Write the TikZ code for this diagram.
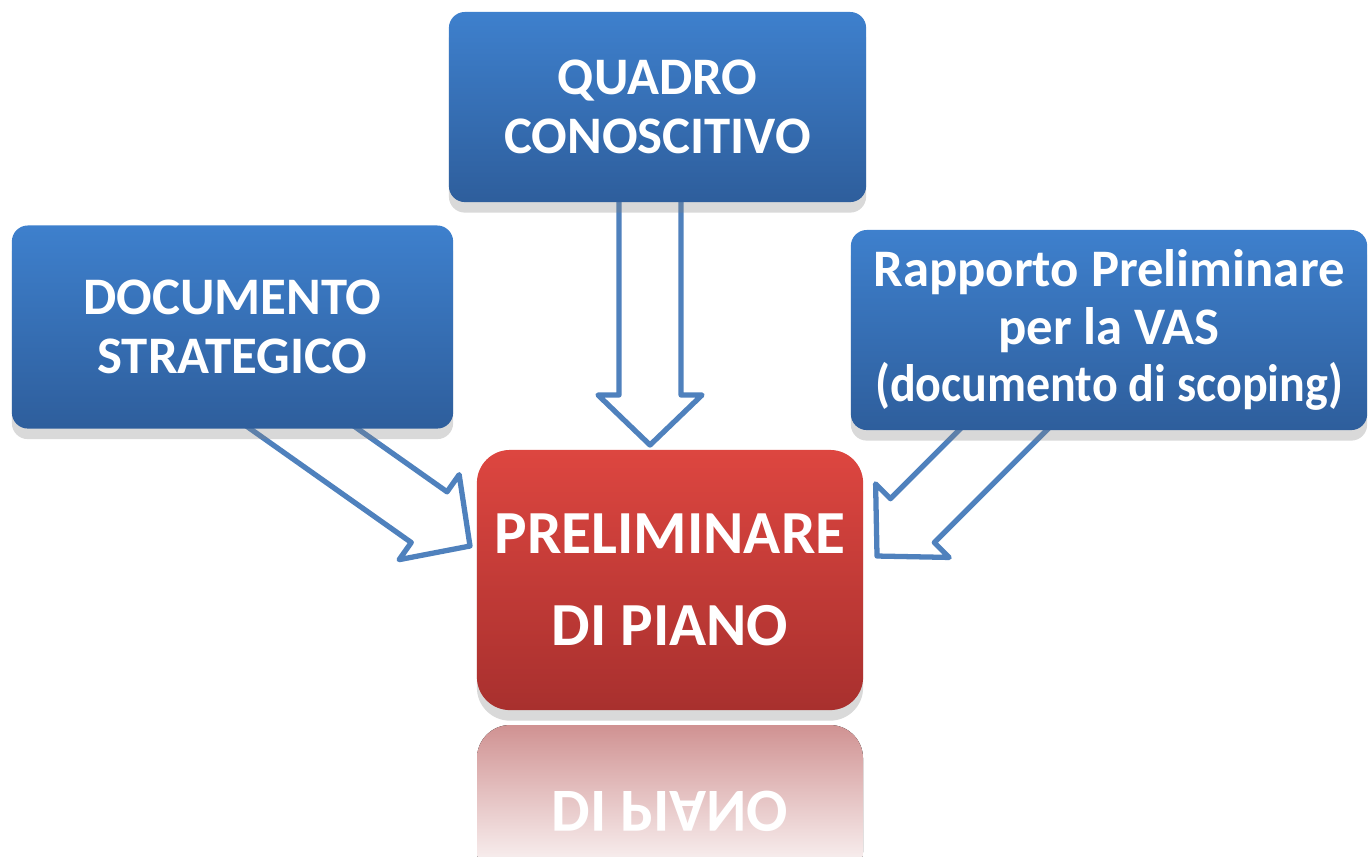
\documentclass[tikz,border=0pt]{standalone}
\usepackage{fontspec}
\usepackage{graphicx}
\setmainfont{Carlito}
\usetikzlibrary{calc, shadows}

\definecolor{boxtop}{RGB}{62,128,205}
\definecolor{boxbot}{RGB}{46,94,156}
\definecolor{redtop}{RGB}{221,70,64}
\definecolor{redbot}{RGB}{168,48,46}
\definecolor{refltop}{RGB}{208,146,146}
\definecolor{arrowblue}{RGB}{79,129,189}

\begin{document}
\begin{tikzpicture}[x=0.01cm, y=-0.01cm]
    \tikzset{
        bluebox/.style={rounded corners=0.16cm, top color=boxtop, bottom color=boxbot, text=white, align=center,
            font=\fontsize{15}{16.8}\selectfont\bfseries, drop shadow={shadow xshift=0pt, shadow yshift=-3pt, opacity=0.3}},
        redbox/.style={rounded corners=0.33cm, top color=redtop, bottom color=redbot, text=white, align=center,
            font=\fontsize{17.4}{26.2}\selectfont\bfseries, drop shadow={shadow xshift=0pt, shadow yshift=-3pt, opacity=0.3}},
        bigarrow/.style={draw=arrowblue, fill=white, line width=1.5pt, line join=round}
    }
    \clip (0,0) rectangle (1368,856);

    % tails sit under the boxes, tips point at the red box
    \coordinate (qtail) at (650,150);
    \coordinate (qtip)  at (650,445);
    \coordinate (dtail) at (235,380);
    \coordinate (dtip)  at (470,546);
    \coordinate (rtail) at (1053,380);
    \coordinate (rtip)  at (877,556);

    \foreach \from/\to in {qtail/qtip, dtail/dtip, rtail/rtip} {
        \path ($(\to)!0.5cm!(\from)$) coordinate (hbase);
        \draw[bigarrow] ($(\from)!0.31cm!90:(\to)$) -- ($(hbase)!0.31cm!90:(\to)$) -- ($(hbase)!0.52cm!90:(\to)$) -- (\to)
            -- ($(hbase)!0.52cm!-90:(\to)$) -- ($(hbase)!0.31cm!-90:(\to)$) -- ($(\from)!0.31cm!-90:(\to)$) -- cycle;
    }

    \node[bluebox, minimum width=4.17cm, minimum height=1.9cm] (quadro) at (657.5,107) {QUADRO\\CONOSCITIVO};
    \node[bluebox, minimum width=4.41cm, minimum height=2.03cm] (documento) at (232.5,327) {DOCUMENTO\\STRATEGICO};
    \node[bluebox, minimum width=5.16cm, minimum height=2.0cm, inner xsep=1pt, font=\fontsize{15}{16.4}\selectfont\bfseries] (rapporto) at (1109,330)
        {Rapporto Preliminare\\per la VAS\\\scalebox{0.91}[1]{(documento di scoping)}};
    \node[redbox, minimum width=3.86cm, minimum height=2.6cm] (preliminare) at (670,580) {PRELIMINARE\\DI PIANO};

    % reflection under the red box
    \fill[rounded corners=0.33cm, top color=refltop, bottom color=white] (477,725) rectangle (863,885);
    \begin{scope}[shift={(670,791)}, yscale=-1]
        \node[transform shape, anchor=base, text=white, font=\fontsize{17.4}{26}\selectfont\bfseries] (riflesso) at (0,0) {DI PIANO};
    \end{scope}
\end{tikzpicture}
\end{document}
